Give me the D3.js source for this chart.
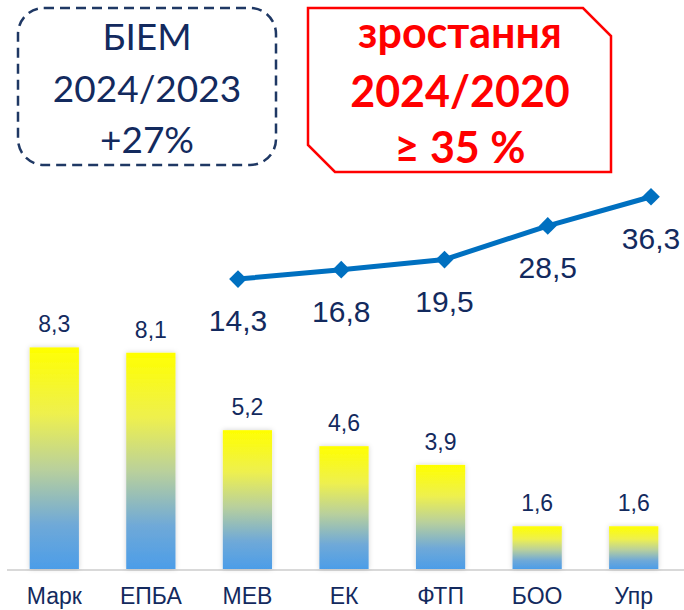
<!DOCTYPE html>
<html>
<head>
<meta charset="utf-8">
<script src="https://cdn.jsdelivr.net/npm/d3@7"></script>
<style>
  html, body { margin: 0; padding: 0; background: #ffffff; }
  svg { display: block; }
</style>
</head>
<body>
<svg id="chart" width="684" height="610"></svg>
<script>
// Per-unit values (bars) by department
const categories = ["Марк", "ЕПБА", "МЕВ", "ЕК", "ФТП", "БОО", "Упр"];
const barValues = [8.3, 8.1, 5.2, 4.6, 3.9, 1.6, 1.6];
const barLabels = ["8,3", "8,1", "5,2", "4,6", "3,9", "1,6", "1,6"];

// Yearly totals (line)
const years = ["2020", "2021", "2022", "2023", "2024"];
const lineValues = [14.3, 16.8, 19.5, 28.5, 36.3];
const lineLabels = ["14,3", "16,8", "19,5", "28,5", "36,3"];

// Callout texts
const noteLines = ["БІЕМ", "2024/2023", "+27%"];
const growthLines = ["зростання", "2024/2020", "≥ 35 %"];

const navy = "#132a5e";
const svg = d3.select("#chart");
const defs = svg.append("defs");

const grad = defs.append("linearGradient")
  .attr("id", "barFill")
  .attr("x1", 0).attr("y1", 0).attr("x2", 0).attr("y2", 1);
[[0, "#ffff00"], [0.3, "#eef04e"], [0.55, "#b9d09c"], [0.8, "#6fa9d8"], [1, "#4c9de8"]]
  .forEach(([o, c]) => grad.append("stop").attr("offset", o).attr("stop-color", c));

const shadow = defs.append("filter").attr("id", "barShadow")
  .attr("x", "-30%").attr("y", "-10%").attr("width", "160%").attr("height", "120%");
shadow.append("feDropShadow").attr("dx", 0).attr("dy", 0)
  .attr("stdDeviation", 2.5).attr("flood-color", "#000").attr("flood-opacity", 0.18);

// Scales
const x = d3.scaleBand().domain(categories).range([6, 682]).paddingInner(0.49).paddingOuter(0.245);
const y = d3.scaleLinear().domain([0, 10]).range([569, 302]);
const xl = d3.scalePoint().domain(years).range([238, 651]);
const yl = d3.scaleLinear().domain([0, 40]).range([332.5, 182.9]);

// Baseline
svg.append("line")
  .attr("x1", 7).attr("x2", 684)
  .attr("y1", y(0) + 1).attr("y2", y(0) + 1)
  .attr("stroke", "#d9d9d9").attr("stroke-width", 2);

// Bars
svg.append("g").selectAll("rect")
  .data(barValues)
  .join("rect")
  .attr("x", (d, i) => x(categories[i]))
  .attr("width", x.bandwidth())
  .attr("y", d => y(d))
  .attr("height", d => y(0) - y(d))
  .attr("fill", "url(#barFill)")
  .attr("filter", "url(#barShadow)");

// Bar value labels
svg.append("g").selectAll("text")
  .data(barValues)
  .join("text")
  .attr("x", (d, i) => x(categories[i]) + x.bandwidth() / 2)
  .attr("y", d => y(d) - 15)
  .attr("text-anchor", "middle")
  .attr("font-family", "'Liberation Sans', Arial, sans-serif")
  .attr("font-size", 23)
  .attr("fill", navy)
  .text((d, i) => barLabels[i]);

// Category axis labels
svg.append("g").selectAll("text")
  .data(categories)
  .join("text")
  .attr("x", d => x(d) + x.bandwidth() / 2)
  .attr("y", 604)
  .attr("text-anchor", "middle")
  .attr("font-family", "'Liberation Sans', Arial, sans-serif")
  .attr("font-size", 23)
  .attr("fill", navy)
  .text(d => d);

// Trend line
const line = d3.line().x((d, i) => xl(years[i])).y(d => yl(d));
svg.append("path")
  .datum(lineValues)
  .attr("d", line)
  .attr("fill", "none")
  .attr("stroke", "#0070c0")
  .attr("stroke-width", 5)
  .attr("stroke-linejoin", "round");

svg.append("g").selectAll("path")
  .data(lineValues)
  .join("path")
  .attr("d", d3.symbol().type(d3.symbolDiamond2).size(200))
  .attr("transform", (d, i) => `translate(${xl(years[i])},${yl(d)})`)
  .attr("fill", "#0070c0");

svg.append("g").selectAll("text")
  .data(lineValues)
  .join("text")
  .attr("x", (d, i) => xl(years[i]))
  .attr("y", d => yl(d) + 52)
  .attr("text-anchor", "middle")
  .attr("font-family", "'Liberation Sans', Arial, sans-serif")
  .attr("font-size", 30)
  .attr("fill", navy)
  .text((d, i) => lineLabels[i]);

// Dashed note box
svg.append("rect")
  .attr("x", 18).attr("y", 8).attr("width", 258).attr("height", 157)
  .attr("rx", 26).attr("ry", 26)
  .attr("fill", "none")
  .attr("stroke", "#1f3864")
  .attr("stroke-width", 2.5)
  .attr("stroke-dasharray", "10 6");

svg.append("g").selectAll("text")
  .data(noteLines)
  .join("text")
  .attr("x", 147)
  .attr("y", (d, i) => [50, 102, 153][i])
  .attr("text-anchor", "middle")
  .attr("font-family", "Lato, 'Open Sans', sans-serif")
  .attr("font-size", 37)
  .attr("fill", navy)
  .text(d => d);

// Growth callout with chamfered corners
const gx0 = 308, gx1 = 611, gy0 = 8, gy1 = 172, c1 = 28, c2 = 27;
svg.append("path")
  .attr("d", `M${gx0},${gy0} L${gx1 - c1},${gy0} L${gx1},${gy0 + c1} L${gx1},${gy1} L${gx0 + c2},${gy1} L${gx0},${gy1 - c2} Z`)
  .attr("fill", "none")
  .attr("stroke", "#ff0000")
  .attr("stroke-width", 2.5);

svg.append("g").selectAll("text")
  .data(growthLines)
  .join("text")
  .attr("x", 460)
  .attr("y", (d, i) => [48, 107, 163][i])
  .attr("text-anchor", "middle")
  .attr("font-family", "Lato, 'Open Sans', sans-serif")
  .attr("font-weight", "bold")
  .attr("font-size", 43)
  .attr("fill", "#ff0000")
  .text(d => d);
</script>
</body>
</html>
